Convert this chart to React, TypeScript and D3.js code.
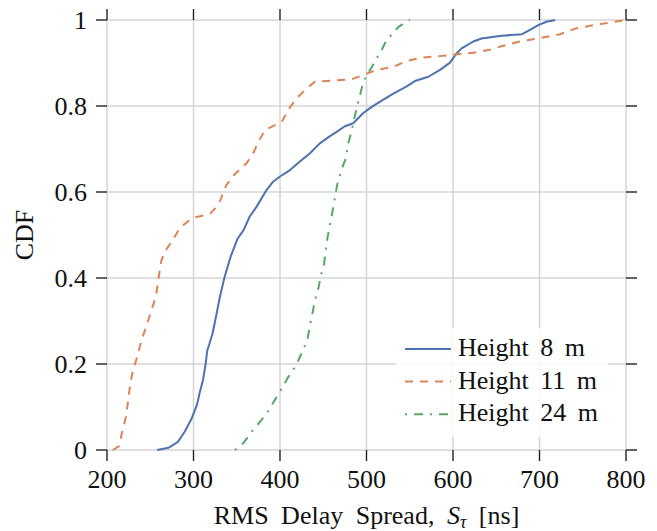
import * as d3 from 'd3';

const xTicks = [200, 300, 400, 500, 600, 700, 800];
const yTicks = [0, 0.2, 0.4, 0.6, 0.8, 1];

// Height 8 m
const h8Delay = [258, 271, 282, 290, 298, 304, 307.5, 311, 314, 316, 318, 322, 326, 330.6, 336, 343, 350.6, 358, 365, 373, 384.6, 392, 400, 411.6, 423, 434.7, 446, 457.8, 465.5, 475, 484.7, 496, 506, 519.5, 531, 546, 556, 571.5, 585, 596.5, 604, 610, 623.5, 633, 654, 680, 689, 698.6, 708, 718];
const h8Cdf = [0, 0.005, 0.019, 0.043, 0.074, 0.105, 0.136, 0.163, 0.2, 0.233, 0.244, 0.271, 0.31, 0.357, 0.403, 0.45, 0.49, 0.512, 0.543, 0.566, 0.605, 0.624, 0.636, 0.651, 0.671, 0.69, 0.713, 0.73, 0.74, 0.753, 0.76, 0.783, 0.798, 0.815, 0.829, 0.845, 0.858, 0.868, 0.884, 0.901, 0.922, 0.934, 0.95, 0.957, 0.963, 0.967, 0.977, 0.988, 0.996, 1.0];

// Height 11 m
const h11Delay = [206.6, 214, 218, 222, 227, 230, 235, 240, 245.8, 251.6, 256.5, 260.5, 263, 268, 276, 284, 293, 301.7, 319, 325, 331, 338, 348, 361.4, 369, 375, 382.7, 392, 402, 409.6, 419, 429, 440.5, 461.6, 482.8, 496, 511.7, 531, 546.4, 565.8, 585, 608, 623.5, 641, 658, 677, 700.6, 723.7, 743, 762, 781.5, 800];
const h11Cdf = [0, 0.009, 0.047, 0.078, 0.155, 0.186, 0.217, 0.256, 0.29, 0.326, 0.357, 0.411, 0.442, 0.465, 0.488, 0.516, 0.531, 0.541, 0.549, 0.562, 0.581, 0.616, 0.642, 0.667, 0.69, 0.717, 0.744, 0.753, 0.763, 0.791, 0.818, 0.837, 0.857, 0.859, 0.862, 0.872, 0.884, 0.891, 0.905, 0.913, 0.916, 0.921, 0.924, 0.93, 0.94, 0.95, 0.958, 0.967, 0.981, 0.988, 0.994, 1.0];

// Height 24 m
const h24Delay = [348, 357.6, 369, 378.8, 387, 394, 402, 409.6, 419, 425, 431.6, 434.7, 437.5, 440.5, 444.4, 447.4, 451, 453, 455, 461, 466, 471, 476, 479, 483, 485.5, 488.6, 492.5, 496, 500, 506, 511.7, 517.5, 523, 531, 537, 544.5, 550];
const h24Cdf = [0, 0.016, 0.047, 0.07, 0.093, 0.116, 0.143, 0.17, 0.198, 0.225, 0.256, 0.29, 0.318, 0.349, 0.376, 0.407, 0.434, 0.465, 0.495, 0.558, 0.616, 0.651, 0.678, 0.713, 0.744, 0.767, 0.795, 0.826, 0.853, 0.872, 0.89, 0.911, 0.93, 0.953, 0.97, 0.984, 0.994, 1.0];

const series = [
  { name: 'Height 8 m', xs: h8Delay, ys: h8Cdf, color: '#4c72b0', dash: null },
  { name: 'Height 11 m', xs: h11Delay, ys: h11Cdf, color: '#dd8452', dash: '8,7' },
  { name: 'Height 24 m', xs: h24Delay, ys: h24Cdf, color: '#55a868', dash: '2,7,9,7' },
];

const W = 657;
const H = 531;
const left = 107;
const right = 626;
const top = 20;
const bottom = 450;
const FONT = 'Liberation Serif, Times New Roman, serif';
const GRID = '#d4d4d4';
const TICK = '#222';

export default function App() {
  const x = d3.scaleLinear().domain([200, 800]).range([left, right]);
  const y = d3.scaleLinear().domain([0, 1]).range([bottom, top]);
  const line = d3
    .line<[number, number]>()
    .x((d) => x(d[0]))
    .y((d) => y(d[1]));

  const tl = 11; // outward tick length

  return (
    <svg width={W} height={H} style={{ position: 'absolute', left: 0, top: 0, background: '#fff' }} fontFamily={FONT}>
      <defs>
        <clipPath id="plotclip">
          <rect x={left - 2} y={top - 2} width={right - left + 4} height={bottom - top + 4} />
        </clipPath>
      </defs>

      {/* grid */}
      {xTicks.map((t) => (
        <line key={'gx' + t} x1={x(t)} x2={x(t)} y1={top} y2={bottom} stroke={GRID} strokeWidth={1.5} />
      ))}
      {yTicks.map((t) => (
        <line key={'gy' + t} x1={left} x2={right} y1={y(t)} y2={y(t)} stroke={GRID} strokeWidth={1.5} />
      ))}

      {/* curves */}
      <g clipPath="url(#plotclip)">
        {series.map((s) => (
          <path
            key={s.name}
            d={line(s.xs.map((v, i) => [v, s.ys[i]] as [number, number])) || ''}
            fill="none"
            stroke={s.color}
            strokeWidth={2}
            strokeDasharray={s.dash || undefined}
            strokeLinejoin="round"
          />
        ))}
      </g>

      {/* ticks, all four sides, outward */}
      {xTicks.map((t) => (
        <g key={'tx' + t}>
          <line x1={x(t)} x2={x(t)} y1={bottom} y2={bottom + tl} stroke={TICK} strokeWidth={1.4} />
          <line x1={x(t)} x2={x(t)} y1={top} y2={top - tl} stroke={TICK} strokeWidth={1.4} />
          <text x={x(t)} y={488} textAnchor="middle" fontSize={26} fill="#111">
            {t}
          </text>
        </g>
      ))}
      {yTicks.map((t) => (
        <g key={'ty' + t}>
          <line x1={left} x2={left - tl} y1={y(t)} y2={y(t)} stroke={TICK} strokeWidth={1.4} />
          <line x1={right} x2={right + tl} y1={y(t)} y2={y(t)} stroke={TICK} strokeWidth={1.4} />
          <text x={87} y={y(t) + 9} textAnchor="end" fontSize={26} fill="#111">
            {d3.format('~g')(t)}
          </text>
        </g>
      ))}

      {/* legend */}
      <rect x={396} y={328} width={212} height={109} fill="#fff" fillOpacity={0.85} />
      {series.map((s, i) => {
        const by = 356 + i * 32.6;
        return (
          <g key={'lg' + s.name}>
            <line x1={405} x2={451} y1={by - 7} y2={by - 7} stroke={s.color} strokeWidth={2} strokeDasharray={s.dash || undefined} />
            <text x={458} y={by} fontSize={26} fill="#111" style={{ wordSpacing: '5px' }}>
              {s.name}
            </text>
          </g>
        );
      })}

      {/* axis labels */}
      <text x={(left + right) / 2} y={524} textAnchor="middle" fontSize={26} fill="#111" style={{ wordSpacing: '6px' }}>
        RMS Delay Spread,{' '}
        <tspan fontStyle="italic">S</tspan>
        <tspan fontStyle="italic" fontSize={18} dy={4}>τ</tspan>
        <tspan dy={-4}> [ns]</tspan>
      </text>
      <text transform={`translate(33,${(top + bottom) / 2}) rotate(-90)`} textAnchor="middle" fontSize={26} fill="#111">
        CDF
      </text>
    </svg>
  );
}
